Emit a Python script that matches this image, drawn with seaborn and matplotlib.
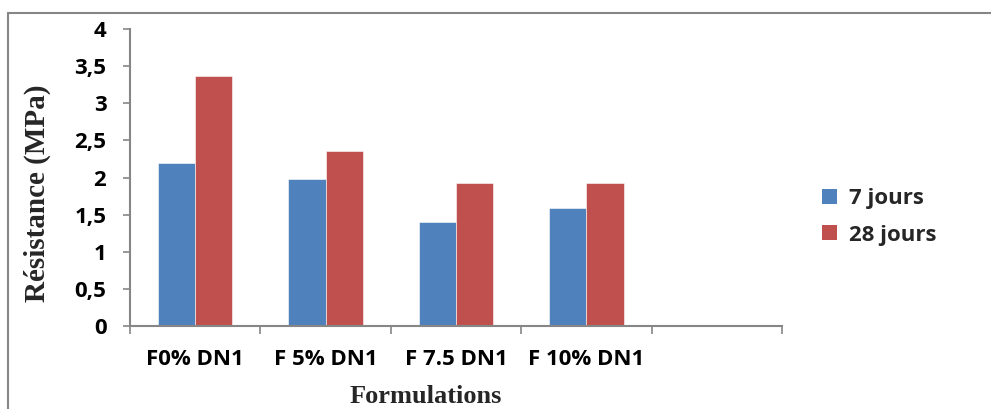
import matplotlib
matplotlib.use("Agg")
import matplotlib.pyplot as plt
import seaborn as sns
import pandas as pd
from matplotlib.patches import Patch
from matplotlib.lines import Line2D

categories = ["F0% DN1", "F 5% DN1", "F 7.5 DN1", "F 10% DN1", ""]
jours_7 = [2.20, 1.98, 1.40, 1.59, None]
jours_28 = [3.37, 2.36, 1.93, 1.92, None]
series = ["7 jours", "28 jours"]
yticks = [0, 0.5, 1, 1.5, 2, 2.5, 3, 3.5, 4]
ytick_labels = ["0", "0,5", "1", "1,5", "2", "2,5", "3", "3,5", "4"]

colors = {"7 jours": "#4F81BD", "28 jours": "#C0504D"}
axis_gray = "#868686"

rows = []
for cat, a, b in zip(categories, jours_7, jours_28):
    rows.append({"Formulation": cat, "Série": series[0], "Valeur": a})
    rows.append({"Formulation": cat, "Série": series[1], "Valeur": b})
df = pd.DataFrame(rows)

sns.set_theme(style="white")
fig = plt.figure(figsize=(9.91, 4.09), dpi=100)
ax = fig.add_axes([130 / 991, 1 - 325.7 / 409, (782 - 130) / 991, (325.7 - 29.3) / 409])

sns.barplot(data=df, x="Formulation", y="Valeur", hue="Série", order=categories,
            hue_order=series, palette=colors, width=0.572, saturation=1,
            edgecolor="white", linewidth=0.4, ax=ax, legend=False)

ax.set_xlim(-0.5, len(categories) - 0.5)
ax.set_ylim(0, 4)
ax.set_yticks(yticks)
ax.set_yticklabels(ytick_labels)

for side in ["top", "right"]:
    ax.spines[side].set_visible(False)
for side in ["left", "bottom"]:
    ax.spines[side].set_color(axis_gray)
    ax.spines[side].set_linewidth(1.5)

tick_family = ["Open Sans", "DejaVu Sans"]
ax.tick_params(axis="y", which="major", left=True, length=5, width=1.2,
               color=axis_gray, pad=12, labelsize=16)
ax.tick_params(axis="x", which="major", bottom=False, length=0, pad=17, labelsize=16)
ax.set_xticks([i - 0.5 for i in range(len(categories) + 1)], minor=True)
ax.tick_params(axis="x", which="minor", bottom=True, length=6, width=1.2, color=axis_gray)
for lab in ax.get_xticklabels() + ax.get_yticklabels():
    lab.set_fontfamily(tick_family)
    lab.set_fontweight("bold")
    lab.set_color("black")

label_family = ["Liberation Serif", "DejaVu Serif"]
ax.set_xlabel("Formulations", family=label_family, weight="bold", size=19)
ax.xaxis.set_label_coords(0.453, -0.238)
ax.xaxis.label.set_verticalalignment("center")
ax.set_ylabel("Résistance (MPa)", family=label_family, weight="bold", size=21)
ax.yaxis.set_label_coords(-0.142, 0.447)
ax.yaxis.label.set_verticalalignment("center")

handles = [Patch(facecolor=colors[s], edgecolor="none") for s in series]
leg = fig.legend(handles, series, loc="upper left", bbox_to_anchor=(802 / 991, 1 - 168 / 409),
                 frameon=False, handlelength=0.68, handleheight=0.68, handletextpad=0.55,
                 labelspacing=0.7, prop=dict(family=tick_family, weight="bold", size=16))

# outer chart frame: left and top edges
fig.add_artist(Line2D([8 / 991, 8 / 991], [0, 1 - 12.5 / 409], transform=fig.transFigure,
                      color=axis_gray, linewidth=1.5))
fig.add_artist(Line2D([8 / 991, 1], [1 - 12.5 / 409, 1 - 12.5 / 409], transform=fig.transFigure,
                      color=axis_gray, linewidth=1.5))

fig.savefig("out.png", dpi=100)
